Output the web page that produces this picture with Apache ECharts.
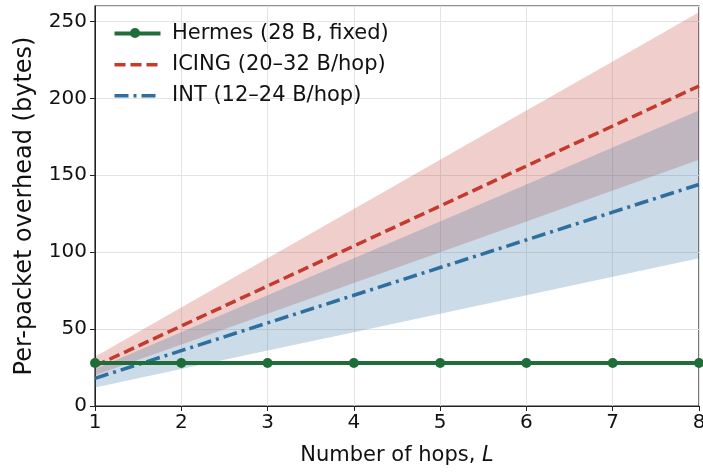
<!DOCTYPE html>
<html>
<head>
<meta charset="utf-8">
<script src="https://cdn.jsdelivr.net/npm/echarts@6/dist/echarts.min.js"></script>
<style>
html,body{margin:0;padding:0;background:#fff;}
#chart{width:703px;height:472px;}
</style>
</head>
<body>
<div id="chart"></div>
<script>
var hops=['1','2','3','4','5','6','7','8'];
var hermes=[28,28,28,28,28,28,28,28];
var icingMean=[26,52,78,104,130,156,182,208];
var icingLow=[20,40,60,80,100,120,140,160];
var icingHigh=[32,64,96,128,160,192,224,256];
var intMean=[18,36,54,72,90,108,126,144];
var intLow=[12,24,36,48,60,72,84,96];
var intHigh=[24,48,72,96,120,144,168,192];
var yTicks=[0,50,100,150,200,250];

var green='#1f6e3a';
var red='#c43a2f';
var blue='#2f6f9f';
var font='DejaVu Sans';

function diff(hi,lo){
	var out=[];
	for(var i=0;i<hi.length;i++){
		out.push(hi[i]-lo[i]);
	}
	return out;
}

//图例(自己画, 为了显示虚线)
var legendItems=[
	{name:'Hermes (28 B, fixed)',color:green,width:4,dash:null,dot:true},
	{name:'ICING (20–32 B/hop)',color:red,width:3.5,dash:[11,5],dot:false},
	{name:'INT (12–24 B/hop)',color:blue,width:3.5,dash:[14,5,3,5],dot:false}
];
var legendGraphic=[];
for(var i=0;i<legendItems.length;i++){
	var it=legendItems[i];
	var y=33+i*31;
	legendGraphic.push({type:'line',left:112,top:y-it.width/2,shape:{x1:0,y1:0,x2:46,y2:0},
		style:{stroke:it.color,lineWidth:it.width,lineDash:it.dash},z:100});
	if(it.dot){
		legendGraphic.push({type:'circle',left:130,top:y-5,shape:{r:5},style:{fill:it.color},z:101});
	}
	legendGraphic.push({type:'text',left:172,top:y-10,style:{text:it.name,font:'21px "DejaVu Sans"',fill:'#111'},z:100});
}

var myChart=echarts.init(document.getElementById('chart'));
var option={
	backgroundColor:'#fff',
	animation:false,
	textStyle:{fontFamily:font},
	grid:{left:95,right:4,top:6,bottom:66,show:true,borderColor:'#222',borderWidth:1.2,backgroundColor:'transparent',outerBoundsMode:'none',containLabel:false},
	graphic:legendGraphic,
	xAxis:{
		type:'category',data:hops,boundaryGap:false,
		name:'Number of hops, {i|L}',
		nameLocation:'middle',nameGap:39,
		nameTextStyle:{fontSize:21,color:'#111',rich:{i:{fontStyle:'italic',fontSize:21,color:'#111'}}},
		axisLine:{lineStyle:{color:'#222'}},
		axisTick:{show:true,length:5,interval:0,lineStyle:{color:'#222'}},
		axisLabel:{fontSize:20,color:'#111',margin:7,interval:0},
		splitLine:{show:true,interval:0,lineStyle:{color:'#e3e3e3'}}
	},
	yAxis:{
		type:'value',min:0,max:260,interval:50,
		name:'Per-packet overhead (bytes)',
		nameLocation:'middle',nameGap:58,
		nameTextStyle:{fontSize:24,color:'#111'},
		axisLine:{show:true,lineStyle:{color:'#222'}},
		axisTick:{show:true,length:5,lineStyle:{color:'#222'}},
		axisLabel:{fontSize:20,color:'#111',margin:8,showMaxLabel:false,
			formatter:function(v){return yTicks.indexOf(v)>=0?String(v):'';}},
		splitLine:{show:true,lineStyle:{color:'#e3e3e3'}}
	},
	series:[
		{name:'icingLo',type:'line',stack:'icing',data:icingLow,symbol:'none',lineStyle:{opacity:0},silent:true},
		{name:'icingBand',type:'line',stack:'icing',data:diff(icingHigh,icingLow),symbol:'none',lineStyle:{opacity:0},areaStyle:{color:red,opacity:0.25},silent:true},
		{name:'intLo',type:'line',stack:'int',data:intLow,symbol:'none',lineStyle:{opacity:0},silent:true},
		{name:'intBand',type:'line',stack:'int',data:diff(intHigh,intLow),symbol:'none',lineStyle:{opacity:0},areaStyle:{color:blue,opacity:0.25},silent:true},
		{name:'ICING (20–32 B/hop)',type:'line',data:icingMean,symbol:'none',itemStyle:{color:red},lineStyle:{color:red,width:3.5,type:[11,5]},z:5},
		{name:'INT (12–24 B/hop)',type:'line',data:intMean,symbol:'none',itemStyle:{color:blue},lineStyle:{color:blue,width:3.5,type:[14,5,3,5]},z:5},
		{name:'Hermes (28 B, fixed)',type:'line',data:hermes,symbol:'circle',symbolSize:10,itemStyle:{color:green},lineStyle:{color:green,width:4},z:6}
	]
};
myChart.setOption(option);
</script>
</body>
</html>
